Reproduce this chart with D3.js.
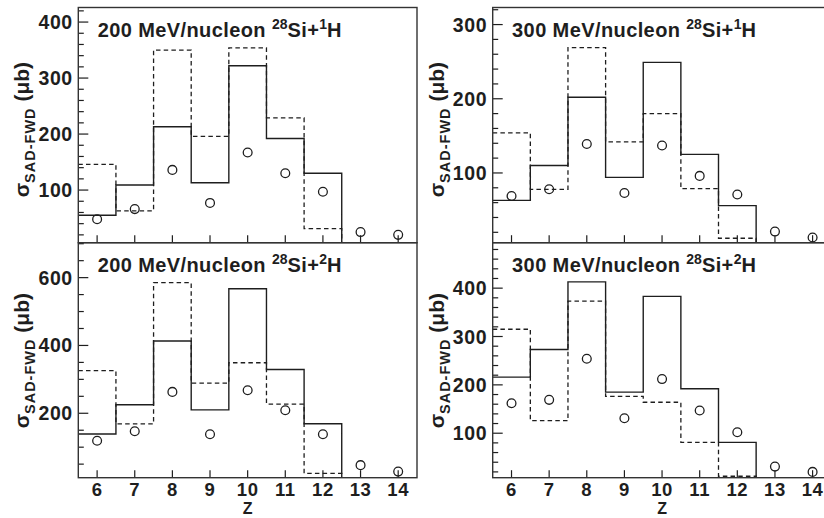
<!DOCTYPE html>
<html>
<head>
<meta charset="utf-8">
<script src="https://cdn.jsdelivr.net/npm/d3@7"></script>
<style>
body { margin: 0; background: #fff; }
svg { display: block; font-family: "Liberation Sans", Arial, sans-serif; font-weight: bold; }
</style>
</head>
<body>
<svg></svg>
<script>
const width = 824,
    height = 518;

// Z bins of the histograms and of the measured points
const zBins = [6, 7, 8, 9, 10, 11, 12];
const zPoints = [6, 7, 8, 9, 10, 11, 12, 13, 14];

// 200 MeV/nucleon 28Si+1H
const h200Solid = [55, 109, 213, 113, 322, 192, 130];
const h200Dashed = [146, 63, 350, 196, 354, 229, 31];
const h200Points = [48, 66, 136, 77, 167, 130, 97, 25, 20];

// 300 MeV/nucleon 28Si+1H
const h300Solid = [63, 110, 202, 94, 249, 125, 56];
const h300Dashed = [154, 78, 269, 142, 180, 79, 12];
const h300Points = [69, 78, 139, 73, 137, 96, 71, 21, 13];

// 200 MeV/nucleon 28Si+2H
const d200Solid = [139, 225, 413, 210, 567, 329, 169];
const d200Dashed = [326, 169, 585, 289, 349, 227, 23];
const d200Points = [119, 147, 263, 138, 268, 209, 138, 47, 28];

// 300 MeV/nucleon 28Si+2H
const d300Solid = [216, 273, 413, 185, 383, 192, 81];
const d300Dashed = [315, 126, 373, 176, 164, 81, 11];
const d300Points = [162, 169, 254, 131, 212, 147, 102, 31, 20];

const svg = d3.select("svg").attr("width", width).attr("height", height);

const ink = "#1e1e1e";
const frameW = 338.7,
    rows = [7.5, 242.7, 477.7],
    cols = [78.3, 492.7];

const panels = [
    {energy: "200", target: "1", col: 0, row: 0, domain: [6, 426], major: 100, minor: 20,
        solid: h200Solid, dashed: h200Dashed, points: h200Points, xLabels: false},
    {energy: "300", target: "1", col: 1, row: 0, domain: [6, 323], major: 100, minor: 20,
        solid: h300Solid, dashed: h300Dashed, points: h300Points, xLabels: false},
    {energy: "200", target: "2", col: 0, row: 1, domain: [10, 703], major: 200, minor: 50,
        solid: d200Solid, dashed: d200Dashed, points: d200Points, xLabels: true},
    {energy: "300", target: "2", col: 1, row: 1, domain: [8, 494], major: 100, minor: 20,
        solid: d300Solid, dashed: d300Dashed, points: d300Points, xLabels: true}
];

panels.forEach((p, i) => {
    const left = cols[p.col],
        top = rows[p.row],
        bottom = rows[p.row + 1],
        h = bottom - top;

    const x = d3.scaleLinear().domain([5.5, 14.5]).range([0, frameW]);
    const y = d3.scaleLinear().domain(p.domain).range([h, 0]);

    const g = svg.append("g").attr("transform", `translate(${left},${top})`);

    g.append("clipPath").attr("id", "clip" + i)
        .append("rect").attr("width", frameW).attr("height", h);

    const plot = g.append("g").attr("clip-path", `url(#clip${i})`);

    // step histograms
    const stepLine = d3.line()
        .x(d => x(d[0]))
        .y(d => y(d[1]))
        .curve(d3.curveStepAfter);

    function stepPoints(vals) {
        const pts = zBins.map((z, k) => [z - 0.5, vals[k]]);
        pts.push([zBins[zBins.length - 1] + 0.5, vals[vals.length - 1]]);
        pts.push([zBins[zBins.length - 1] + 0.5, p.domain[0]]);
        return pts;
    }

    plot.append("path")
        .attr("d", stepLine(stepPoints(p.dashed)))
        .attr("fill", "none")
        .attr("stroke", ink)
        .attr("stroke-width", 1.3)
        .attr("stroke-dasharray", "4.5,3.2");

    plot.append("path")
        .attr("d", stepLine(stepPoints(p.solid)))
        .attr("fill", "none")
        .attr("stroke", ink)
        .attr("stroke-width", 1.4);

    // x ticks (inside, pointing up)
    g.selectAll("line.xtick").data(zPoints).enter()
        .append("line").classed("xtick", true)
        .attr("x1", d => x(d)).attr("x2", d => x(d))
        .attr("y1", h).attr("y2", h - 7.5)
        .attr("stroke", ink).attr("stroke-width", 1.2);

    // y ticks (inside, pointing right)
    const minorTicks = d3.range(p.minor, p.domain[1], p.minor).filter(v => v > p.domain[0]);
    g.selectAll("line.ytick").data(minorTicks).enter()
        .append("line").classed("ytick", true)
        .attr("x1", 0)
        .attr("x2", d => (d % p.major === 0 ? 10 : 5.5))
        .attr("y1", d => y(d)).attr("y2", d => y(d))
        .attr("stroke", ink).attr("stroke-width", 1.2);

    const majorTicks = d3.range(p.major, p.domain[1], p.major);
    g.selectAll("text.ylab").data(majorTicks).enter()
        .append("text").classed("ylab", true)
        .attr("x", -5.5)
        .attr("y", d => y(d))
        .attr("dy", "0.36em")
        .attr("text-anchor", "end")
        .attr("font-size", 19.5)
        .attr("letter-spacing", 0.6)
        .attr("fill", ink)
        .text(d => d);

    // measured points
    plot.selectAll("circle").data(zPoints).enter()
        .append("circle")
        .attr("cx", d => x(d))
        .attr("cy", (d, k) => y(p.points[k]))
        .attr("r", 4.4)
        .attr("fill", "none")
        .attr("stroke", ink)
        .attr("stroke-width", 1.3);

    // frame
    g.append("rect")
        .attr("width", frameW).attr("height", h)
        .attr("fill", "none")
        .attr("stroke", "#333")
        .attr("stroke-width", 1.4);

    // panel title
    const title = g.append("text")
        .attr("x", 19.4)
        .attr("y", 29.2)
        .attr("font-size", 20)
        .attr("letter-spacing", 0.4)
        .attr("fill", ink);
    title.append("tspan").text(p.energy + " MeV/nucleon ");
    title.append("tspan").attr("font-size", 14).attr("dy", -8).attr("letter-spacing", 0).text("28");
    title.append("tspan").attr("dy", 8).text("Si+");
    title.append("tspan").attr("font-size", 14).attr("dy", -8).attr("letter-spacing", 0).text(p.target);
    title.append("tspan").attr("dy", 8).text("H");

    // y-axis title
    const yTitle = g.append("text")
        .attr("transform", `translate(-49,${h / 2 + (p.row === 0 ? 4.5 : 0.5)}) rotate(-90)`)
        .attr("text-anchor", "middle")
        .attr("font-size", 21)
        .attr("fill", ink);
    yTitle.append("tspan").text("σ");
    yTitle.append("tspan").attr("font-size", 14.5).attr("dy", 6).attr("letter-spacing", 1).text("SAD-FWD");
    yTitle.append("tspan").attr("dy", -6).text(" (μb)");

    // x labels
    if (p.xLabels) {
        g.selectAll("text.xlab").data(zPoints).enter()
            .append("text").classed("xlab", true)
            .attr("x", d => x(d))
            .attr("y", h + 18.4)
            .attr("text-anchor", "middle")
            .attr("font-size", 18.5)
            .attr("letter-spacing", 0.6)
            .attr("fill", ink)
            .text(d => d);
        g.append("text")
            .attr("x", x(10))
            .attr("y", h + 36.8)
            .attr("text-anchor", "middle")
            .attr("font-size", 16)
            .attr("fill", ink)
            .text("Z");
    }
});
</script>
</body>
</html>
